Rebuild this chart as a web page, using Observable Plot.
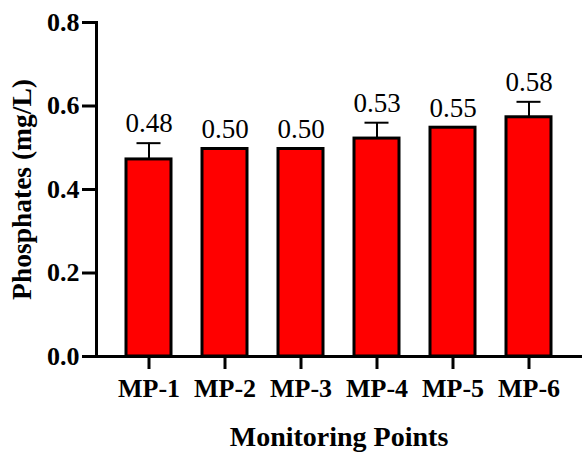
<!DOCTYPE html>
<html>
<head>
<meta charset="utf-8">
<script src="https://cdn.jsdelivr.net/npm/d3@7"></script>
<script src="https://cdn.jsdelivr.net/npm/@observablehq/plot@0.6"></script>
<style>
  html, body { margin: 0; padding: 0; background: #fff; }
</style>
</head>
<body>
<div id="chart"></div>
<script>
const categories = ["MP-1", "MP-2", "MP-3", "MP-4", "MP-5", "MP-6"];
const means = [0.472, 0.497, 0.497, 0.522, 0.548, 0.573];
const errors = [0.039, 0, 0, 0.038, 0, 0.037];
const valueLabels = ["0.48", "0.50", "0.50", "0.53", "0.55", "0.58"];
const yTicks = [0, 0.2, 0.4, 0.6, 0.8];
const xTitle = "Monitoring Points";
const yTitle = "Phosphates (mg/L)";

const serif = "'Liberation Serif', 'Times New Roman', serif";
const data = categories.map((c, i) => ({cat: c, value: means[i], err: errors[i], label: valueLabels[i], top: means[i] + errors[i]}));
const errData = data.filter(d => d.err > 0);

const chart = Plot.plot({
  width: 582,
  height: 452,
  marginLeft: 96,
  marginRight: 1,
  marginTop: 22,
  marginBottom: 96,
  style: {fontFamily: serif, background: "#fff", color: "#000"},
  x: {type: "band", domain: categories, paddingInner: 0.41, paddingOuter: 0.365, label: null},
  y: {domain: [0, 0.8], label: null},
  marks: [
    Plot.ruleX(errData, {x: "cat", y1: "value", y2: "top", stroke: "#000", strokeWidth: 2}),
    Plot.tickY(errData, {x: "cat", y: "top", stroke: "#000", strokeWidth: 2, insetLeft: 10.5, insetRight: 10.5}),
    Plot.barY(data, {x: "cat", y: "value", fill: "#ff0000", stroke: "#000", strokeWidth: 3}),
    Plot.text(data, {x: "cat", y: "top", text: "label", dy: -11, lineAnchor: "bottom", fontSize: 27, fontFamily: serif, fill: "#000"}),
    Plot.axisY({ticks: yTicks, tickFormat: d3.format(".1f"), tickSize: 14, tickPadding: 3, strokeWidth: 3, fontSize: 26, fontWeight: "bold", fontFamily: serif, label: null}),
    Plot.axisX({tickSize: 13, tickPadding: 9, strokeWidth: 3, fontSize: 26, fontWeight: "bold", fontFamily: serif, label: null}),
    Plot.frame({anchor: "left", strokeWidth: 3}),
    Plot.frame({anchor: "bottom", strokeWidth: 3}),
    Plot.text([xTitle], {frameAnchor: "bottom", dy: 89, lineAnchor: "bottom", fontSize: 28, fontWeight: "bold", fontFamily: serif, fill: "#000"}),
    Plot.text([yTitle], {frameAnchor: "left", textAnchor: "middle", rotate: -90, dx: -66, lineAnchor: "bottom", fontSize: 27.5, fontWeight: "bold", fontFamily: serif, fill: "#000"})
  ]
});
document.getElementById("chart").appendChild(chart);
</script>
</body>
</html>
